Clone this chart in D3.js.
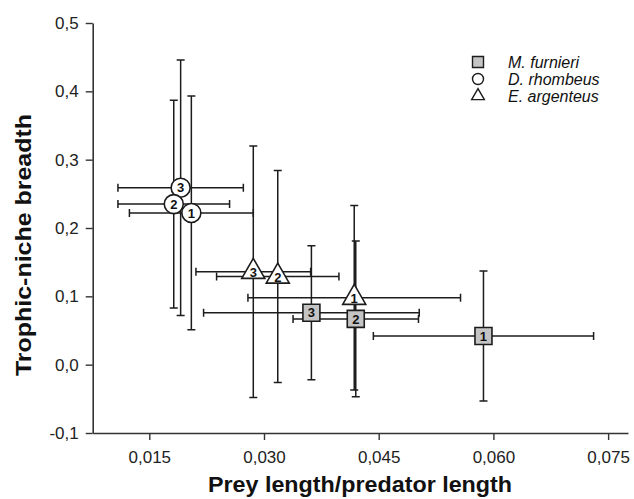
<!DOCTYPE html>
<html>
<head>
<meta charset="utf-8">
<script src="https://cdn.jsdelivr.net/npm/d3@7"></script>
<style>
  html, body { margin: 0; padding: 0; background: #fff; }
  svg { display: block; font-family: "Liberation Sans", Arial, sans-serif; }
</style>
</head>
<body>
<svg id="chart" width="634" height="499"></svg>
<script>
// Series data (mean +/- error)
const sampleLabels = ['1', '2', '3'];

const furnieriX = [0.0587, 0.0420, 0.0362];
const furnieriXErr = [0.0144, 0.0082, 0.0141];
const furnieriY = [0.042, 0.067, 0.076];
const furnieriYErr = [0.095, 0.114, 0.098];

const rhombeusX = [0.0205, 0.0182, 0.0191];
const rhombeusXErr = [0.0081, 0.0073, 0.0082];
const rhombeusY = [0.222, 0.235, 0.259];
const rhombeusYErr = [0.171, 0.152, 0.187];

const argenteusX = [0.0418, 0.0318, 0.0286];
const argenteusXErr = [0.0139, 0.0080, 0.0075];
const argenteusY = [0.098, 0.129, 0.136];
const argenteusYErr = [0.135, 0.155, 0.184];

const speciesNames = ['M. furnieri', 'D. rhombeus', 'E. argenteus'];
const xTicks = [0.015, 0.030, 0.045, 0.060, 0.075];
const yTicks = [-0.1, 0.0, 0.1, 0.2, 0.3, 0.4, 0.5];

const svg = d3.select('#chart');

// Comma as decimal mark and a plain hyphen for minus, like the reference
const locale = d3.formatLocale({ decimal: ',', thousands: '.', grouping: [3], currency: ['', ''], minus: '-' });

const x = d3.scaleLinear().domain([0.0076, 0.0776]).range([92.7, 628]);
const y = d3.scaleLinear().domain([-0.1, 0.5]).range([433, 23]);

const ink = '#1c1c1c';

// build rows for each species
const makeRows = (xs, xe, ys, ye) =>
  sampleLabels.map((lab, i) => ({ lab, x: xs[i], xe: xe[i], y: ys[i], ye: ye[i] }));

const series = [
  { name: speciesNames[0], shape: 'square', rows: makeRows(furnieriX, furnieriXErr, furnieriY, furnieriYErr) },
  { name: speciesNames[1], shape: 'circle', rows: makeRows(rhombeusX, rhombeusXErr, rhombeusY, rhombeusYErr) },
  { name: speciesNames[2], shape: 'triangle', rows: makeRows(argenteusX, argenteusXErr, argenteusY, argenteusYErr) },
];

const symbolOf = {
  square: d3.symbol(d3.symbolSquare, 17 * 17),
  circle: d3.symbol(d3.symbolCircle, Math.PI * 9.5 * 9.5),
  triangle: d3.symbol(d3.symbolTriangle, 230),
};
const fillOf = { square: '#c4c4c4', circle: '#ffffff', triangle: '#ffffff' };

// Axes
const yAxis = d3.axisLeft(y).tickValues(yTicks).tickFormat(locale.format('.1f'))
  .tickSize(7).tickSizeOuter(0).tickPadding(7);
const xAxis = d3.axisBottom(x).tickValues(xTicks).tickFormat(locale.format('.3f'))
  .tickSize(7).tickSizeOuter(0).tickPadding(11);

const gy = svg.append('g').attr('transform', `translate(${x.range()[0]},0)`).call(yAxis);
const gx = svg.append('g').attr('transform', `translate(0,${y.range()[0]})`).call(xAxis);

[gx, gy].forEach((g) => {
  g.select('.domain').attr('stroke', '#333').attr('stroke-width', 1.6);
  g.selectAll('.tick line').attr('stroke', '#333').attr('stroke-width', 1.4);
  g.selectAll('.tick text').attr('fill', '#222').style('font-size', '17px');
});

// Axis titles
svg.append('text')
  .attr('x', 360).attr('y', 492)
  .attr('text-anchor', 'middle')
  .style('font-size', '22px').style('font-weight', 'bold').attr('fill', '#111')
  .attr('textLength', 304).attr('lengthAdjust', 'spacingAndGlyphs')
  .text('Prey length/predator length');

svg.append('text')
  .attr('transform', 'translate(31,245) rotate(-90)')
  .attr('text-anchor', 'middle')
  .style('font-size', '22px').style('font-weight', 'bold').attr('fill', '#111')
  .attr('textLength', 262).attr('lengthAdjust', 'spacingAndGlyphs')
  .text('Trophic-niche breadth');

// Error bars first
const cap = 4;
const bars = svg.append('g').attr('stroke', ink).attr('stroke-width', 1.5).attr('fill', 'none');
series.forEach((s) => {
  s.rows.forEach((d) => {
    const cx = x(d.x), cy = y(d.y);
    const x0 = x(d.x - d.xe), x1 = x(d.x + d.xe);
    const y0 = y(d.y - d.ye), y1 = y(d.y + d.ye);
    bars.append('path').attr('d', `M${x0},${cy}H${x1}M${x0},${cy - cap}V${cy + cap}M${x1},${cy - cap}V${cy + cap}`);
    bars.append('path').attr('d', `M${cx},${y0}V${y1}M${cx - cap},${y0}H${cx + cap}M${cx - cap},${y1}H${cx + cap}`);
  });
});

// Markers, drawn 3 -> 1 so sample 1 sits on top
const marks = svg.append('g');
series.forEach((s) => {
  s.rows.slice().reverse().forEach((d) => {
    const g = marks.append('g').attr('transform', `translate(${x(d.x)},${y(d.y)})`);
    g.append('path').attr('d', symbolOf[s.shape]())
      .attr('fill', fillOf[s.shape]).attr('stroke', ink).attr('stroke-width', 1.6);
    g.append('text')
      .attr('y', s.shape === 'triangle' ? 0.5 : 0)
      .attr('dy', '0.36em')
      .attr('text-anchor', 'middle')
      .style('font-size', '13px').style('font-weight', 'bold').attr('fill', '#111')
      .text(d.lab);
  });
});

// Legend
const legendSymbols = {
  square: d3.symbol(d3.symbolSquare, 11 * 11),
  circle: d3.symbol(d3.symbolCircle, Math.PI * 5.5 * 5.5),
  triangle: d3.symbol(d3.symbolTriangle, 70),
};
const legend = svg.append('g').attr('transform', 'translate(478,62)');
series.forEach((s, i) => {
  const row = legend.append('g').attr('transform', `translate(0,${i * 17})`);
  row.append('path').attr('d', legendSymbols[s.shape]())
    .attr('fill', fillOf[s.shape]).attr('stroke', ink).attr('stroke-width', 1.4);
  row.append('text')
    .attr('x', 30).attr('dy', '0.35em')
    .style('font-size', '16px').style('font-style', 'italic').attr('fill', '#111')
    .text(s.name);
});
</script>
</body>
</html>
